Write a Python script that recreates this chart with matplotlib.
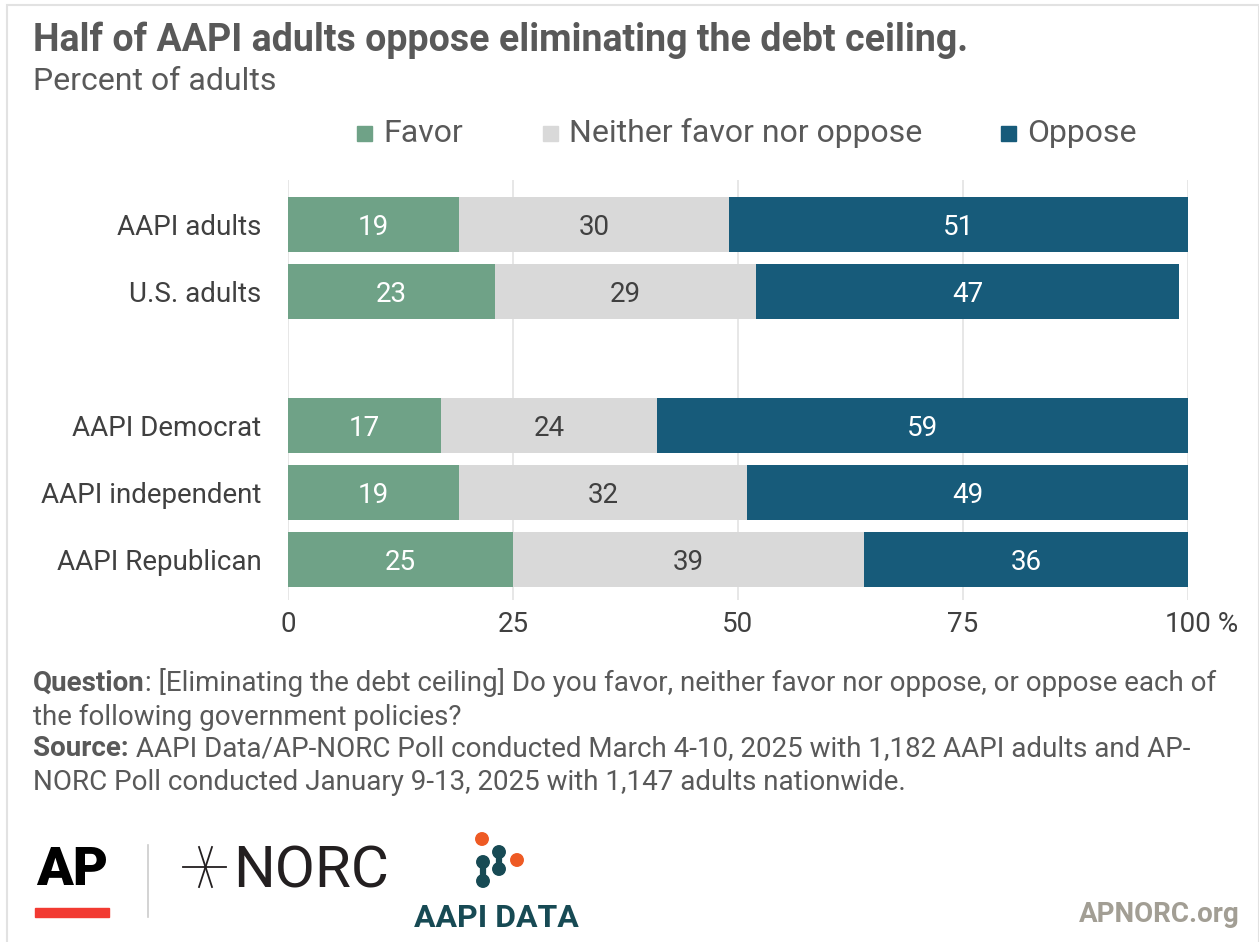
import numpy as np
import matplotlib.pyplot as plt
import matplotlib.patches as mpatches

plt.rcParams['font.family'] = ['Roboto', 'DejaVu Sans']

categories = ["AAPI adults", "U.S. adults", "", "AAPI Democrat", "AAPI independent", "AAPI Republican"]
favor = [19, 23, 0, 17, 19, 25]
neither = [30, 29, 0, 24, 32, 39]
oppose = [51, 47, 0, 59, 49, 36]
series_names = ["Favor", "Neither favor nor oppose", "Oppose"]
colors = ["#6FA287", "#D9D9D9", "#175B7A"]
text_colors = ["white", "#404040", "white"]
ticks = [0, 25, 50, 75, 100]
tick_labels = ["0", "25", "50", "75", "100"]

W, H = 1259, 942
fig = plt.figure(figsize=(W / 100, H / 100), dpi=100)
grey = "#595959"


def fx(px):
    return px / W


def fy(py):
    return 1 - py / H


# axes placed in pixel terms
ax_left, ax_right, ax_top, ax_bottom = 288, 1188, 180, 600
ax = fig.add_axes([fx(ax_left), fy(ax_bottom), (ax_right - ax_left) / W, (ax_bottom - ax_top) / H])

y = np.arange(len(categories))
left = np.zeros(len(categories))
for vals, name, col, tcol in zip([favor, neither, oppose], series_names, colors, text_colors):
    vals = np.array(vals)
    mask = vals > 0
    ax.barh(y[mask], vals[mask], left=left[mask], height=0.82, color=col, zorder=3)
    for yi, v, l in zip(y[mask], vals[mask], left[mask]):
        ax.text(l + v / 2, yi, str(v), ha="center", va="center_baseline", color=tcol, fontsize=20, zorder=4)
    left = left + vals

ax.set_xlim(0, 100)
ax.set_ylim(5.61, -0.657)
ax.set_xticks(ticks)
ax.set_xticklabels(tick_labels, fontsize=20, color="#404040")
ax.set_yticks([i for i, c in enumerate(categories) if c])
ax.set_yticklabels([c for c in categories if c], fontsize=20, color="#404040")
ax.tick_params(length=0, axis="y", pad=19)
ax.tick_params(length=0, axis="x", pad=8)
ax.grid(axis="x", color="#E3E3E3", linewidth=1.2, zorder=0)
for s in ax.spines.values():
    s.set_visible(False)
last = ax.get_xticklabels()[-1]
ax.annotate(" %", xy=(1, 0), xycoords=last, ha="left", va="bottom", fontsize=20, color="#404040",
            annotation_clip=False)

# title and subtitle
fig.text(fx(33), fy(40), "Half of AAPI adults oppose eliminating the debt ceiling.",
         fontsize=27, fontweight="bold", color=grey, va="center", ha="left")
fig.text(fx(33), fy(81), "Percent of adults", fontsize=23, color=grey, va="center", ha="left")

# legend
leg_x = [357, 543, 1001]
leg_tx = [383, 569, 1027]
for xx, tx, name, col in zip(leg_x, leg_tx, series_names, colors):
    fig.patches.append(mpatches.Rectangle((fx(xx), fy(141)), 15 / W, 15 / H,
                                          transform=fig.transFigure, color=col))
    fig.text(fx(tx), fy(133), name, fontsize=23, color=grey, va="center", ha="left")

# notes
notes = [("Question", ": [Eliminating the debt ceiling] Do you favor, neither favor nor oppose, or oppose each of", 691),
         ("", "the following government policies?", 725),
         ("Source:", " AAPI Data/AP-NORC Poll conducted March 4-10, 2025 with 1,182 AAPI adults and AP-", 756),
         ("", "NORC Poll conducted January 9-13, 2025 with 1,147 adults nationwide.", 790)]
for bold, rest, py in notes:
    if bold:
        t = fig.text(fx(33), fy(py), bold, fontsize=20, fontweight="bold", color=grey, va="baseline", ha="left")
        ax.annotate(rest, xy=(1, 0), xycoords=t, ha="left", va="bottom", fontsize=20, color=grey,
                    annotation_clip=False)
    else:
        fig.text(fx(33), fy(py), rest, fontsize=20, color=grey, va="baseline", ha="left")

# logos
fig.text(fx(36), fy(885), "AP", fontsize=39, fontweight="black", color="black", va="baseline", ha="left")
fig.patches.append(mpatches.Rectangle((fx(35), fy(917)), 74 / W, 9 / H,
                                      transform=fig.transFigure, color="#F23A32"))
fig.lines.append(plt.Line2D([fx(148), fx(148)], [fy(845), fy(917)],
                            transform=fig.transFigure, color="#CCCCCC", linewidth=1.2))
ink = "#231F20"
for (x0, y0), (x1, y1) in [((183, 867), (226, 867)), ((199, 847), (212, 887)), ((212, 847), (199, 887))]:
    fig.lines.append(plt.Line2D([fx(x0), fx(x1)], [fy(y0), fy(y1)], transform=fig.transFigure,
                                color=ink, linewidth=1.3))
fig.text(fx(233), fy(887), "NORC", fontsize=42, color=ink, va="baseline", ha="left")

teal = "#174A54"
orange = "#EE5A24"
for cx, cy, c in [(482, 839, orange), (517, 860, orange),
                  (483, 862, teal), (483, 881, teal), (499, 852, teal), (499, 869, teal)]:
    fig.patches.append(mpatches.Ellipse((fx(cx), fy(cy)), 12.5 / W, 12.5 / H, transform=fig.transFigure, color=c))
for cx, y0, y1 in [(483, 862, 881), (499, 852, 869)]:
    fig.lines.append(plt.Line2D([fx(cx), fx(cx)], [fy(y0), fy(y1)], transform=fig.transFigure,
                                color=teal, linewidth=4.5))
fig.text(fx(496), fy(918), "AAPI DATA", fontsize=23, fontweight="bold", color=teal, va="center", ha="center")
fig.text(fx(1240), fy(915), "APNORC.org", fontsize=20, fontweight="bold", color="#A29E94", va="center", ha="right")

# border
fig.patches.append(mpatches.Rectangle((fx(7), -0.01), (W - 7) / W, 1 - 5 / H + 0.01, transform=fig.transFigure,
                                      fill=False, edgecolor="#E2E2E2", linewidth=1.5))

fig.savefig("out.png", dpi=100)
